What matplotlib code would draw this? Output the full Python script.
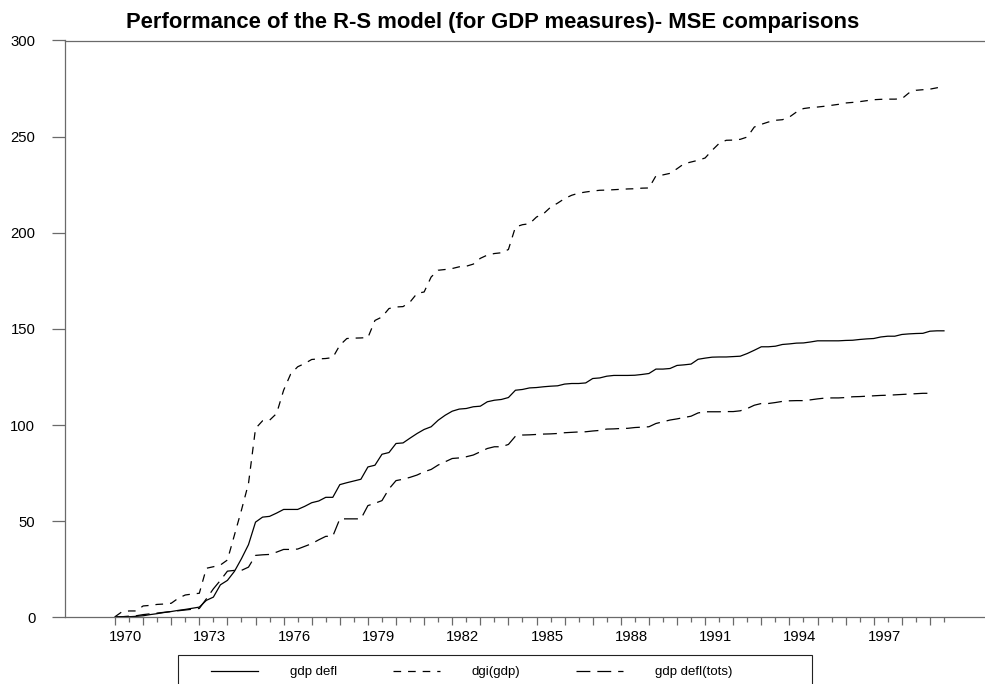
import numpy as np
import pandas as pd
import matplotlib
matplotlib.use("Agg")
import matplotlib.pyplot as plt
import matplotlib.ticker as mticker
from matplotlib.transforms import ScaledTranslation
from matplotlib.patches import Rectangle

plt.rcParams['font.family'] = ['Liberation Sans', 'DejaVu Sans']
plt.rcParams['lines.scale_dashes'] = False

title = "Performance of the R-S model (for GDP measures)- MSE comparisons"
series_names = ["gdp defl", "dgi(gdp)", "gdp defl(tots)"]
start_quarter = "1970Q1"

# cumulative MSE, quarterly from 1970Q1
gdp_defl = [
  0.2, 0.3, 0.3, 0.5, 0.8, 1.4, 1.9, 2.5, 3.0, 3.6, 4.1, 4.7, 5.3,
  8.8, 10.5, 16.9, 19.2, 23.9, 30.5, 37.8, 49.5, 52.1, 52.5, 54.2, 56.1,
  56.1, 56.1, 57.7, 59.6, 60.5, 62.4, 62.4, 69.0, 70.0, 70.9, 71.8, 78.2,
  79.1, 84.8, 85.7, 90.4, 90.7, 93.2, 95.6, 97.7, 99.1, 102.5, 105.1, 107.2,
  108.3, 108.6, 109.5, 109.8, 112.1, 112.9, 113.3, 114.3, 118.1, 118.5, 119.3, 119.5,
  119.9, 120.2, 120.4, 121.3, 121.6, 121.6, 121.9, 124.2, 124.5, 125.4, 125.8, 125.8,
  125.8, 125.9, 126.3, 126.8, 129.1, 129.1, 129.4, 131.0, 131.3, 131.7, 134.2, 134.8,
  135.3, 135.4, 135.4, 135.6, 135.8, 137.2, 138.9, 140.7, 140.7, 141.0, 141.9, 142.2,
  142.6, 142.7, 143.2, 143.8, 143.8, 143.8, 143.8, 144.0, 144.1, 144.5, 144.8, 145.0,
  145.8, 146.2, 146.2, 147.1, 147.4, 147.6, 147.7, 148.8, 149.0, 149.0,
]
dgi_gdp = [
  0.3, 2.9, 3.3, 3.3, 5.9, 6.2, 6.7, 6.9, 7.3, 9.9, 11.6, 12.1, 12.5,
  25.5, 26.3, 27.2, 29.8, 42.8, 55.8, 69.6, 98.2, 102.2, 102.5, 106.0, 118.1,
  126.5, 130.3, 132.0, 134.1, 134.4, 134.6, 135.1, 141.5, 145.0, 145.2, 145.3, 145.5,
  154.4, 156.2, 160.6, 161.4, 161.6, 164.0, 168.5, 169.2, 177.0, 180.5, 180.9, 181.4,
  182.3, 182.6, 183.7, 186.7, 188.4, 189.2, 189.6, 191.3, 203.0, 204.2, 204.7, 208.2,
  209.9, 213.3, 215.4, 217.8, 219.5, 220.6, 221.2, 221.7, 222.1, 222.2, 222.4, 222.6,
  222.8, 222.9, 223.2, 223.3, 229.6, 230.1, 230.9, 233.3, 235.9, 236.8, 237.7, 238.9,
  242.9, 246.5, 248.1, 248.2, 248.6, 249.8, 255.0, 256.4, 257.6, 258.5, 258.8, 260.2,
  262.8, 264.6, 265.1, 265.4, 265.8, 266.3, 266.8, 267.5, 267.8, 268.2, 268.7, 269.2,
  269.4, 269.5, 269.5, 269.7, 272.7, 274.1, 274.4, 274.7, 275.4, 276.3,
]
gdp_defl_tots = [
  0.2, 0.3, 0.6, 0.8, 1.4, 1.8, 2.2, 2.6, 3.0, 3.4, 3.8, 4.2, 4.6,
  9.6, 14.8, 19.2, 24.0, 24.4, 24.4, 26.1, 32.2, 32.5, 32.7, 33.9, 35.3,
  35.3, 35.5, 36.9, 38.3, 40.3, 42.1, 42.2, 51.2, 51.2, 51.2, 51.2, 58.1,
  59.3, 60.7, 66.8, 71.1, 71.8, 72.8, 74.0, 75.7, 76.9, 79.2, 80.9, 82.6,
  82.9, 83.5, 84.4, 86.1, 87.8, 88.7, 88.7, 89.9, 94.2, 94.8, 94.9, 95.1,
  95.3, 95.4, 95.6, 96.0, 96.2, 96.4, 96.5, 96.9, 97.2, 97.9, 98.0, 98.2,
  98.3, 98.7, 98.9, 99.1, 100.8, 101.7, 102.6, 103.2, 103.9, 104.6, 106.3, 106.9,
  106.9, 106.9, 107.0, 107.0, 107.4, 108.6, 110.3, 111.2, 111.2, 111.7, 112.3, 112.6,
  112.7, 112.7, 113.1, 113.6, 114.0, 114.1, 114.1, 114.3, 114.7, 114.8, 115.0, 115.2,
  115.4, 115.5, 115.7, 115.9, 116.1, 116.3, 116.5, 116.5,
]
y_ticks = [0, 50, 100, 150, 200, 250, 300]
label_years = list(range(1970, 1998, 3))


def quarter_axis(values):
  periods = pd.period_range(start_quarter, periods=len(values), freq="Q")
  return np.asarray(periods.year + (periods.quarter - 1) / 4.0, dtype=float)


W, H = 985, 684
AXIS_COLOR = '#6a6a6a'

fig = plt.figure(figsize=(W / 100, H / 100), dpi=100, facecolor='white')
ax = fig.add_axes([65 / W, 1 - 617.3 / H, 920 / W, (617.3 - 40.5) / H])

l1, = ax.plot(quarter_axis(gdp_defl), gdp_defl, color='black', lw=0.9, ls='-')
l2, = ax.plot(quarter_axis(dgi_gdp), dgi_gdp, color='black', lw=0.9, ls=(0, (5.5, 5)))
l3, = ax.plot(quarter_axis(gdp_defl_tots), gdp_defl_tots, color='black', lw=0.9, ls=(0, (10, 5)))

ax.set_xlim(1968.22, 2000.96)
ax.set_ylim(0, 300)
ax.set_yticks(y_ticks)

ax.xaxis.set_major_locator(mticker.FixedLocator(np.arange(1970, 2000)))
ax.xaxis.set_minor_locator(mticker.FixedLocator(np.arange(1970.5, 2000, 1.0)))
ax.xaxis.set_major_formatter(mticker.FuncFormatter(
  lambda v, pos: str(int(round(v))) if int(round(v)) in label_years else ""))

for side in ['left', 'bottom', 'top']:
  ax.spines[side].set_color(AXIS_COLOR)
  ax.spines[side].set_linewidth(0.9)
ax.spines['right'].set_visible(False)

ax.tick_params(axis='y', direction='out', length=9.4, width=0.9, pad=12,
               labelsize=10.7, color=AXIS_COLOR)
ax.tick_params(axis='x', which='major', direction='out', length=5.5, width=0.9,
               pad=3.5, labelsize=10.7, color=AXIS_COLOR)
ax.tick_params(axis='x', which='minor', direction='out', length=3.4, width=0.9,
               color=AXIS_COLOR)

# year labels sit a little to the right of their tick
shift = ScaledTranslation(10.5 / 100, 0, fig.dpi_scale_trans)
for tick in ax.xaxis.get_major_ticks():
  tick.label1.set_transform(tick.label1.get_transform() + shift)

fig.text(0.5, 1 - 27.7 / H, title, ha='center', va='baseline',
         fontsize=15.8, fontweight='bold')

fig.legend([l1, l2, l3], series_names, loc='center left',
           bbox_to_anchor=(211 / W, 1 - 672 / H), ncol=3, frameon=False,
           fontsize=9.5, handlelength=3.56, handletextpad=2.42,
           columnspacing=4.24, borderpad=0, borderaxespad=0)
fig.add_artist(Rectangle((178.3 / W, -0.1), (811.7 - 178.3) / W, 0.1 + 1 - 655 / H,
                         transform=fig.transFigure, fill=False,
                         edgecolor='#222222', lw=0.8))

fig.savefig("out.png", dpi=100, facecolor=fig.get_facecolor())
